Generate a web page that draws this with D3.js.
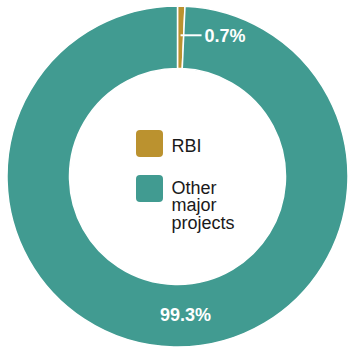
<!DOCTYPE html>
<html>
<head>
<meta charset="utf-8">
<script src="https://cdn.jsdelivr.net/npm/d3@7"></script>
<style>
  html, body { margin: 0; padding: 0; background: #fff; }
  svg { display: block; font-family: "Liberation Sans", Arial, sans-serif; }
</style>
</head>
<body>
<svg id="chart" width="348" height="349"></svg>
<script>
// Share of spending: RBI vs other major projects (percent)
const categories = ["RBI", "Other major projects"];
const values = [0.7, 99.3];
const valueLabels = ["0.7%", "99.3%"];
const colors = ["#bb922f", "#419b91"];
const legendLines = [["RBI"], ["Other", "major", "projects"]];

const svg = d3.select("#chart");
const cx = 177.5, cy = 176.5;
const outerR = 170.5, innerR = 108;

const pie = d3.pie().sort(null).value(d => d)(values);
const arc = d3.arc().innerRadius(innerR).outerRadius(outerR);
const color = d3.scaleOrdinal().domain(categories).range(colors);

const g = svg.append("g").attr("transform", `translate(${cx},${cy})`);

g.selectAll("path.slice")
  .data(pie)
  .join("path")
  .attr("class", "slice")
  .attr("d", arc)
  .attr("fill", (d, i) => color(categories[i]))
  .attr("stroke", "#fff")
  .attr("stroke-width", 1.5);

// Small slice: leader line out to the right with its label
const small = pie[0];
const [sx, sy] = arc.centroid(small);
g.append("line")
  .attr("x1", sx).attr("y1", sy - 2)
  .attr("x2", sx + 21).attr("y2", sy - 2)
  .attr("stroke", "#fff")
  .attr("stroke-width", 2);
g.append("text")
  .attr("x", sx + 24).attr("y", sy - 2)
  .attr("dy", "0.36em")
  .attr("fill", "#fff")
  .attr("font-weight", "bold")
  .attr("font-size", 18)
  .text(valueLabels[0]);

// Large slice label inside the ring
const big = pie[1];
const [bx, by] = arc.centroid(big);
g.append("text")
  .attr("x", bx + 11).attr("y", by - 1)
  .attr("dy", "0.36em")
  .attr("text-anchor", "middle")
  .attr("fill", "#fff")
  .attr("font-weight", "bold")
  .attr("font-size", 18)
  .text(valueLabels[1]);

// Legend in the hole
const legend = svg.append("g").attr("transform", "translate(136,130)");
const rowY = [0, 45];
categories.forEach((c, i) => {
  const row = legend.append("g").attr("transform", `translate(0,${rowY[i]})`);
  row.append("rect")
    .attr("width", 27).attr("height", 27)
    .attr("rx", 4)
    .attr("fill", color(c));
  const t = row.append("text")
    .attr("x", 35.5)
    .attr("font-size", 18)
    .attr("fill", "#1a1a1a");
  legendLines[i].forEach((line, j) => {
    t.append("tspan")
      .attr("x", 35.5)
      .attr("y", 21.5 + (i === 1 ? -3 + j * 17.6 : 0))
      .text(line);
  });
});
</script>
</body>
</html>
